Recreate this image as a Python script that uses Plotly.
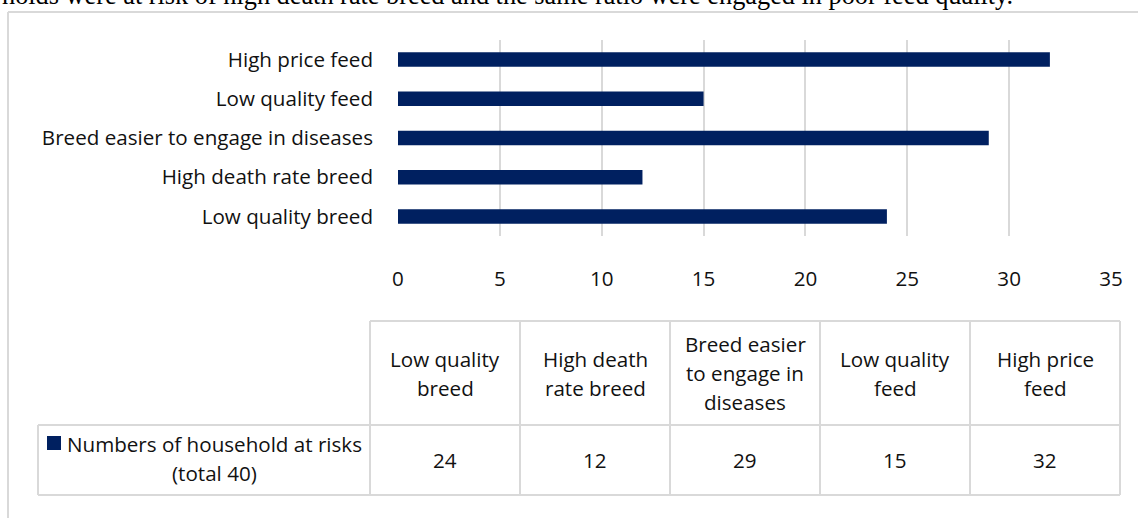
import textwrap
import plotly.graph_objects as go

# ---------------- data ----------------
categories = [
    "Low quality breed",
    "High death rate breed",
    "Breed easier to engage in diseases",
    "Low quality feed",
    "High price feed",
]
values = [24, 12, 29, 15, 32]
series_name = "Numbers of household at risks (total 40)"
x_range = [0, 35]
x_step = 5
caption = ("holds were at risk of high death rate breed and the same ratio "
           "were engaged in poor feed quality.")

# ---------------- styling / geometry ----------------
W, H = 1138, 518
PL, PR, PT, PB = 398, 1111, 40, 236          # plot area in pixels
BAR = "#002060"
GRID = "#d9d9d9"
TXT = "#111111"
FONT = "Open Sans"
FS = 20.6
LINE_H = 29

def fx(px):
    return (px - PL) / (PR - PL)

def fy(py):
    return (PB - py) / (PB - PT)

fig = go.Figure(
    go.Bar(
        x=values,
        y=categories,
        orientation="h",
        marker=dict(color=BAR, line=dict(width=0)),
        name=series_name,
        showlegend=False,
    )
)

shapes = []
annotations = []

def hline(y, x0, x1, color=GRID, w=2):
    shapes.append(dict(type="line", xref="paper", yref="paper",
                       x0=fx(x0), x1=fx(x1), y0=fy(y), y1=fy(y),
                       line=dict(color=color, width=w)))

def vline(x, y0, y1, color=GRID, w=2):
    shapes.append(dict(type="line", xref="paper", yref="paper",
                       x0=fx(x), x1=fx(x), y0=fy(y0), y1=fy(y1),
                       line=dict(color=color, width=w)))

def text_lines(lines, cx, cy, anchor="center"):
    n = len(lines)
    for j, ln in enumerate(lines):
        yy = cy + (j - (n - 1) / 2) * LINE_H
        annotations.append(dict(xref="paper", yref="paper", x=fx(cx), y=fy(yy),
                                text=ln, showarrow=False, xanchor=anchor,
                                yanchor="middle",
                                font=dict(family=FONT, size=FS, color=TXT)))

# outer chart frame (top and left edges)
hline(12, 8, W + 5, color="#d9d9d9", w=2)
vline(8, 12, H + 5, color="#d9d9d9", w=2)

# caption text from surrounding document
annotations.append(dict(xref="paper", yref="paper", x=fx(0), y=fy(12.5),
                        text=caption, showarrow=False, xanchor="left",
                        yanchor="bottom",
                        font=dict(family="Liberation Serif", size=26.3, color="#000000")))

# data table
T_LEFT, C0, CW = 38, 370, 150
R0, R1, R2 = 321, 425, 495
ncol = len(categories)
T_RIGHT = C0 + ncol * CW
hline(R0, C0, T_RIGHT)
hline(R1, T_LEFT, T_RIGHT)
hline(R2, T_LEFT, T_RIGHT)
vline(T_LEFT, R1, R2)
for i in range(ncol + 1):
    vline(C0 + i * CW, R0, R2)

for i, (cat, val) in enumerate(zip(categories, values)):
    cx = C0 + i * CW + CW / 2
    text_lines(textwrap.wrap(cat, 12), cx, (R0 + R1) / 2)
    text_lines([str(val)], cx, (R1 + R2) / 2)

# legend key cell
shapes.append(dict(type="rect", xref="paper", yref="paper",
                   x0=fx(47), x1=fx(61), y0=fy(436), y1=fy(450),
                   fillcolor=BAR, line=dict(width=0)))
text_lines(textwrap.wrap(series_name, 29), 214.5, (R1 + R2) / 2 - 2)

fig.update_layout(
    width=W, height=H,
    margin=dict(l=PL, r=W - PR, t=PT, b=H - PB, pad=0),
    paper_bgcolor="white", plot_bgcolor="white",
    bargap=0.63,
    shapes=shapes,
    annotations=annotations,
    font=dict(family=FONT, size=FS, color=TXT),
    xaxis=dict(range=x_range, dtick=x_step, tick0=0, showgrid=True,
               gridcolor=GRID, gridwidth=2, zeroline=False, showline=False,
               ticks="", ticklabelstandoff=28,
               tickfont=dict(family=FONT, size=FS, color=TXT)),
    yaxis=dict(showgrid=False, zeroline=False, showline=False, ticks="",
               ticklabelstandoff=24,
               tickfont=dict(family=FONT, size=FS, color=TXT)),
)

fig.write_html(
    "out.html",
    config={"displayModeBar": False},
    post_script="document.body.style.margin='0px';document.body.style.overflow='hidden';",
)
